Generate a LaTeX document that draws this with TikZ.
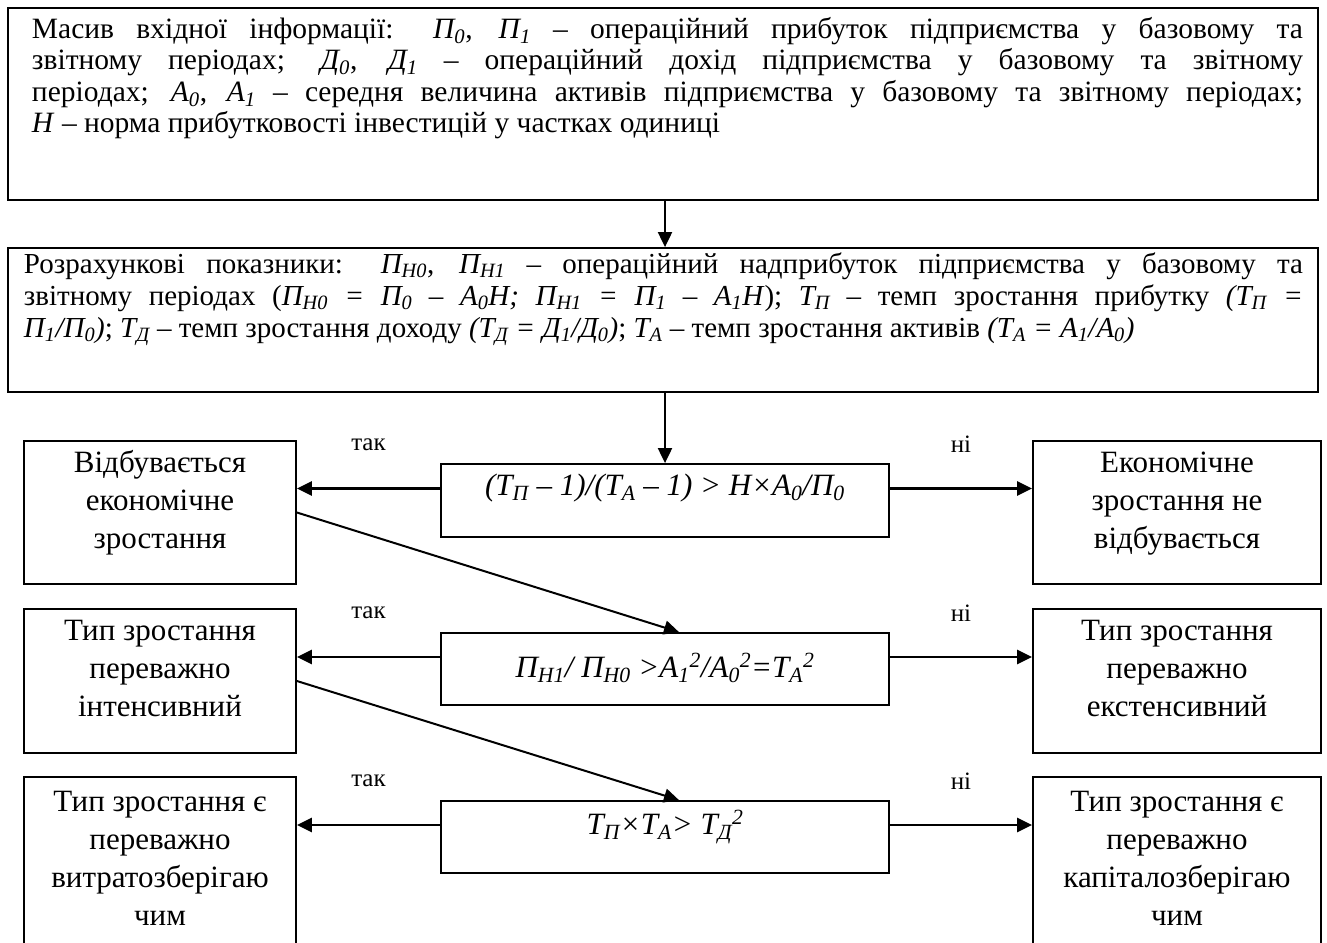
\documentclass[tikz,border=0pt]{standalone}
\usepackage{fontspec}
\setmainfont{Liberation Serif}
\usetikzlibrary{arrows.meta,calc}

% italic quantity with an index
\newcommand{\iv}[2]{\textit{#1\textsubscript{#2}}}
% text block hanging from the top of its frame
\newcommand{\inbox}[4]{\parbox[c][#1][t]{#2}{\centering\rule{0pt}{#3}#4}}

\tikzset{
  frame/.style={draw, line width=1.8pt, inner sep=0pt, rectangle},
  side/.style={frame, font=\fontsize{31}{38}\selectfont},
  cond/.style={frame, font=\fontsize{31}{34}\selectfont},
  arr/.style={-{Triangle[length=15pt,width=14pt]}, line width=2pt},
  harr/.style={arr, line width=2.4pt},
  lbl/.style={font=\fontsize{25}{28}\selectfont, inner sep=0pt},
}

\begin{document}
\begin{tikzpicture}[x=1pt, y=-1pt]
  \useasboundingbox (0,0) rectangle (1327,942);
  % input data
  \node[frame] (inp) at (663,104) {\parbox[c][192pt][t]{1310pt}{\fontsize{29.5}{31.5}\selectfont
    \tolerance=10000 \hbadness=10000 \leftskip=24pt \rightskip=15pt
    \rule{0pt}{30pt}Масив вхідної інформації: \iv{П}{0}, \iv{П}{1} – операційний прибуток підприємства у базовому та\linebreak
    звітному періодах; \iv{Д}{0}, \iv{Д}{1} – операційний дохід підприємства у базовому та звітному\linebreak
    періодах; \iv{А}{0}, \iv{А}{1} – середня величина активів підприємства у базовому та звітному періодах;\linebreak
    \textit{Н} – норма прибутковості інвестицій у частках одиниці}};
  % derived indicators
  \node[frame] (calc) at (663,320) {\parbox[c][144pt][t]{1310pt}{\fontsize{29}{32}\selectfont
    \tolerance=10000 \hbadness=10000 \leftskip=16pt \rightskip=15pt
    \rule{0pt}{25pt}Розрахункові показники: \iv{П}{Н0}, \iv{П}{Н1} – операційний надприбуток підприємства у базовому та\linebreak
    звітному періодах (\textit{П\textsubscript{Н0} = П\textsubscript{0} – А\textsubscript{0}Н; П\textsubscript{Н1} = П\textsubscript{1} – А\textsubscript{1}Н}); \iv{Т}{П} – темп зростання прибутку \textit{(Т\textsubscript{П} =}\linebreak
    \textit{П\textsubscript{1}/П\textsubscript{0})}; \iv{Т}{Д} – темп зростання доходу \textit{(Т\textsubscript{Д} = Д\textsubscript{1}/Д\textsubscript{0})}; \iv{Т}{А} – темп зростання активів \textit{(Т\textsubscript{А} = А\textsubscript{1}/А\textsubscript{0})}}};

  % checks
  \node[cond] (c1) at (665,500.5) {\inbox{73pt}{448pt}{31pt}{\textit{(Т\textsubscript{П} – 1)/(Т\textsubscript{А} – 1) > Н×А\textsubscript{0}/П\textsubscript{0}}}};
  \node[cond] (c2) at (665,669) {\inbox{72pt}{448pt}{44pt}{\textit{П\textsubscript{Н1}/ П\textsubscript{Н0} >А\textsubscript{1}\textsuperscript{2}/А\textsubscript{0}\textsuperscript{2}=Т\textsubscript{А}\textsuperscript{2}}}};
  \node[cond] (c3) at (665,837) {\inbox{72pt}{448pt}{33pt}{\textit{Т\textsubscript{П}×Т\textsubscript{А}> Т\textsubscript{Д}\textsuperscript{2}}}};

  % outcomes
  \node[side] (l1) at (160,512.5) {\inbox{143pt}{272pt}{31pt}{Відбувається\\економічне\\зростання}};
  \node[side] (l2) at (160,681) {\inbox{144pt}{272pt}{31pt}{Тип зростання\\переважно\\інтенсивний}};
  \node[side] (l3) at (160,872) {\inbox{190pt}{272pt}{34pt}{Тип зростання є\\переважно\\витратозберігаю\\чим}};
  \node[side] (r1) at (1177,512.5) {\inbox{143pt}{288pt}{31pt}{Економічне\\зростання не\\відбувається}};
  \node[side] (r2) at (1177,681) {\inbox{144pt}{288pt}{31pt}{Тип зростання\\переважно\\екстенсивний}};
  \node[side] (r3) at (1177,872) {\inbox{190pt}{288pt}{34pt}{Тип зростання є\\переважно\\капіталозберігаю\\чим}};

  \draw[arr] (inp.south -| c1.north) -- (calc.north -| c1.north);
  \draw[arr] (calc.south -| c1.north) -- (c1.north);
  \foreach \c/\l/\r in {c1/l1/r1, c2/l2/r2, c3/l3/r3} {
    \draw[harr] ([yshift=12pt]\c.west) -- node[lbl, yshift=44pt]{так} ([yshift=12pt]\c.west -| \l.east);
    \draw[harr] ([yshift=12pt]\c.east) -- node[lbl, yshift=44pt]{ні} ([yshift=12pt]\c.east -| \r.west);
  }
  \draw[arr] (l1.east) -- ([xshift=14pt]c2.north);
  \draw[arr] (l2.east) -- ([xshift=14pt]c3.north);
\end{tikzpicture}
\end{document}
